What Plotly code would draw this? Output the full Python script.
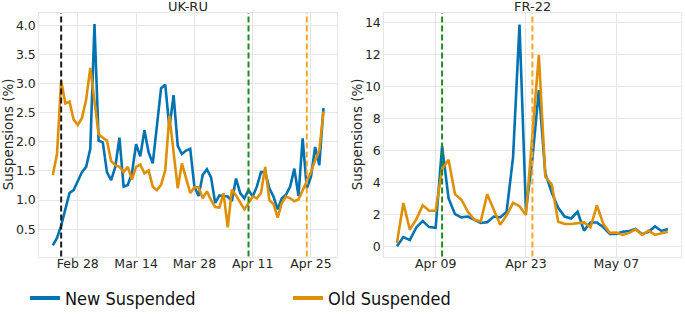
import pandas as pd
import plotly.graph_objects as go

# ---------------- data ----------------
uk_start = "2022-02-22"
uk_new = [0.22, 0.35, 0.56, 0.84, 1.12, 1.17, 1.34, 1.48, 1.57, 1.88,
          4.02, 2.02, 1.99, 1.48, 1.34, 1.57, 2.07, 1.23, 1.26, 1.46,
          1.96, 1.75, 2.20, 1.82, 1.63, 2.30, 2.92, 2.98, 2.24, 2.80,
          1.93, 1.79, 1.85, 1.88, 1.23, 1.07, 1.43, 1.53, 1.39, 0.95,
          1.08, 1.07, 1.06, 0.98, 1.37, 1.12, 1.03, 1.17, 1.06, 1.23,
          1.48, 1.48, 1.20, 1.06, 0.84, 1.03, 1.09, 1.23, 1.54, 1.07,
          2.06, 1.20, 1.40, 1.91, 1.60, 2.58]
uk_old = [1.43, 1.79, 3.05, 2.66, 2.69, 2.38, 2.29, 2.41, 2.72, 3.27,
          2.70, 2.13, 2.07, 2.02, 1.67, 1.60, 1.57, 1.48, 1.57, 1.35,
          1.57, 1.61, 1.46, 1.51, 1.23, 1.17, 1.26, 1.51, 2.45, 1.85,
          1.20, 1.63, 1.35, 1.12, 1.22, 1.22, 1.03, 1.15, 1.00, 0.88,
          0.87, 1.12, 0.53, 1.18, 1.08, 0.95, 0.84, 0.95, 1.06, 1.03,
          1.12, 1.57, 1.00, 0.93, 0.70, 0.95, 1.06, 1.03, 0.98, 1.01,
          1.17, 1.35, 1.48, 1.68, 1.85, 2.52]

fr_start = "2022-04-03"
fr_new = [0.05, 0.62, 0.43, 1.22, 1.62, 1.24, 1.20, 6.30, 3.05, 2.05,
          1.85, 1.90, 1.70, 1.50, 1.55, 1.90, 1.85, 2.20, 5.60, 13.9,
          2.30, 5.50, 9.80, 4.60, 3.40, 2.45, 1.90, 1.78, 2.20, 1.02,
          1.53, 1.53, 1.23, 0.82, 0.82, 0.95, 1.00, 1.12, 0.80, 0.95,
          1.28, 1.00, 1.12]
fr_old = [0.25, 2.75, 1.08, 1.73, 2.60, 2.26, 2.26, 4.85, 5.45, 3.30,
          2.95, 2.20, 1.70, 1.60, 3.30, 2.30, 1.38, 1.98, 2.76, 2.55,
          2.00, 7.00, 12.0, 4.40, 3.90, 1.58, 1.43, 1.43, 1.48, 1.53,
          1.23, 2.60, 1.43, 0.88, 0.90, 0.75, 0.88, 1.10, 0.75, 1.02,
          0.75, 0.85, 0.95]

uk_events = ["2022-02-24", "2022-04-10", "2022-04-24"]
fr_events = ["2022-04-10", "2022-04-24"]
event_colors_uk = ["#1a1a1a", "#1f8a1f", "#F5A52A"]
event_colors_fr = ["#1f8a1f", "#F5A52A"]

uk_ticks = ["2022-02-28", "2022-03-14", "2022-03-28", "2022-04-11", "2022-04-25"]
fr_ticks = ["2022-04-09", "2022-04-23", "2022-05-07"]
uk_yticks = [0.5, 1.0, 1.5, 2.0, 2.5, 3.0, 3.5, 4.0]
fr_yticks = [0, 2, 4, 6, 8, 10, 12, 14]

titles = ["UK-RU", "FR-22"]
y_label = "Suspensions (%)"
series_names = ["New Suspended", "Old Suspended"]
BLUE = "#0173B2"
ORANGE = "#DE8F05"

uk_dates = pd.date_range(uk_start, periods=len(uk_new), freq="D")
fr_dates = pd.date_range(fr_start, periods=len(fr_new), freq="D")

# ---------------- figure ----------------
W, H = 685, 317
FONT = "DejaVu Sans"
TXT = "#262626"
GRID = "#E6E6E6"

fig = go.Figure()
lw = 2.6
fig.add_trace(go.Scatter(x=uk_dates, y=uk_new, mode="lines", line=dict(color=BLUE, width=lw),
                         showlegend=False, xaxis="x", yaxis="y"))
fig.add_trace(go.Scatter(x=uk_dates, y=uk_old, mode="lines", line=dict(color=ORANGE, width=lw),
                         showlegend=False, xaxis="x", yaxis="y"))
fig.add_trace(go.Scatter(x=fr_dates, y=fr_new, mode="lines", line=dict(color=BLUE, width=lw),
                         showlegend=False, xaxis="x2", yaxis="y2"))
fig.add_trace(go.Scatter(x=fr_dates, y=fr_old, mode="lines", line=dict(color=ORANGE, width=lw),
                         showlegend=False, xaxis="x2", yaxis="y2"))
# legend entries
for name, col in zip(series_names, [BLUE, ORANGE]):
    fig.add_trace(go.Scatter(x=[None], y=[None], mode="lines", name=name,
                             line=dict(color=col, width=4), showlegend=True,
                             xaxis="x", yaxis="y"))

shapes = []
for d, c in zip(uk_events, event_colors_uk):
    shapes.append(dict(type="line", xref="x", yref="y domain", x0=d, x1=d, y0=0, y1=1,
                       line=dict(color=c, width=2, dash="6px,3px")))
for d, c in zip(fr_events, event_colors_fr):
    shapes.append(dict(type="line", xref="x2", yref="y2 domain", x0=d, x1=d, y0=0, y1=1,
                       line=dict(color=c, width=2, dash="6px,3px")))

ydom = [(H - 261.5) / H, (H - 13.3) / H]
xdom1 = [39.3 / W, 337.0 / W]
xdom2 = [384.3 / W, 680.5 / W]

axis_common = dict(showgrid=True, gridcolor=GRID, gridwidth=1, zeroline=False,
                   showline=True, linecolor=GRID, linewidth=1, mirror=True,
                   automargin=False,
                   ticks="", tickfont=dict(family=FONT, size=12.5, color=TXT))

annos = []
for t, dom in zip(titles, [xdom1, xdom2]):
    annos.append(dict(text=t, xref="paper", yref="paper", x=sum(dom) / 2, y=(H - 7) / H,
                      xanchor="center", yanchor="middle", showarrow=False,
                      font=dict(family=FONT, size=13, color=TXT)))
for xp in [7.5, 356.5]:
    annos.append(dict(text=y_label, xref="paper", yref="paper", x=xp / W, y=sum(ydom) / 2,
                      xanchor="center", yanchor="middle", textangle=-90, showarrow=False,
                      font=dict(family=FONT, size=13.5, color=TXT)))

fig.update_layout(
    width=W, height=H,
    margin=dict(l=0, r=0, t=0, b=0),
    paper_bgcolor="white", plot_bgcolor="white",
    font=dict(family=FONT, color=TXT),
    xaxis=dict(domain=xdom1, anchor="y", type="date",
               range=["2022-02-18 18:00", "2022-05-01 06:00"],
               tickvals=uk_ticks, tickformat="%b %d", ticklabelstandoff=-5, **axis_common),
    yaxis=dict(domain=ydom, anchor="x", range=[0.03, 4.21],
               tickvals=uk_yticks, tickformat=".1f", **axis_common),
    xaxis2=dict(domain=xdom2, anchor="y2", type="date",
                range=["2022-04-01 01:00", "2022-05-16 23:00"],
                tickvals=fr_ticks, tickformat="%b %d", ticklabelstandoff=-5, **axis_common),
    yaxis2=dict(domain=ydom, anchor="x2", range=[-0.6, 14.62],
                tickvals=fr_yticks, tickformat="d", **axis_common),
    shapes=shapes,
    annotations=annos,
    legend=dict(orientation="h", x=25 / W, y=0.041, xanchor="left", yanchor="middle",
                bgcolor="rgba(0,0,0,0)", borderwidth=0,
                entrywidth=218, entrywidthmode="pixels",
                font=dict(family="DejaVu Sans Condensed, DejaVu Sans",
                          size=18, color="#111111")),
)

fig.write_html("out.html", config={"displayModeBar": False},
               post_script="document.body.style.margin='0';document.body.style.padding='0';")
